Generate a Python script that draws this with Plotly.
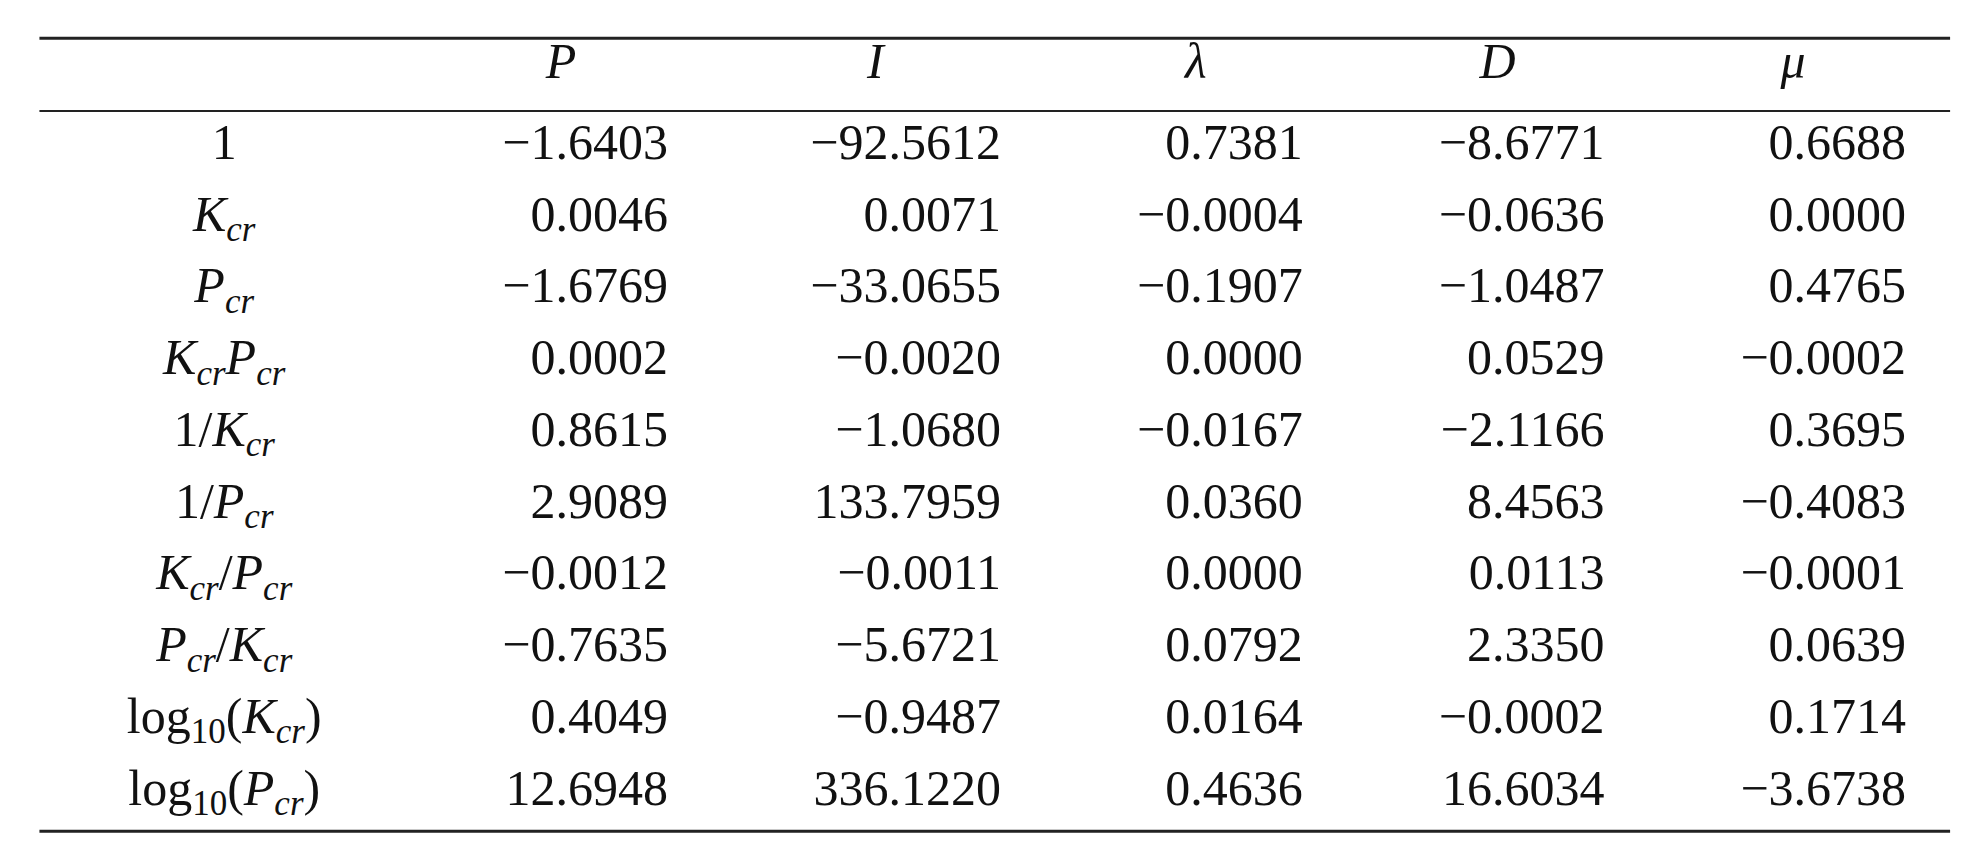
import plotly.graph_objects as go

row_labels = ["1", "<i>K</i><sub><i>cr</i></sub>", "<i>P</i><sub><i>cr</i></sub>",
              "<i>K</i><sub><i>cr</i></sub><i>P</i><sub><i>cr</i></sub>",
              "1/<i>K</i><sub><i>cr</i></sub>", "1/<i>P</i><sub><i>cr</i></sub>",
              "<i>K</i><sub><i>cr</i></sub>/<i>P</i><sub><i>cr</i></sub>",
              "<i>P</i><sub><i>cr</i></sub>/<i>K</i><sub><i>cr</i></sub>",
              "log<sub>10</sub>(<i>K</i><sub><i>cr</i></sub>)",
              "log<sub>10</sub>(<i>P</i><sub><i>cr</i></sub>)"]
col_headers = ["<i>P</i>", "<i>I</i>", "<i>λ</i>", "<i>D</i>", "<i>μ</i>"]
P_vals = [-1.6403, 0.0046, -1.6769, 0.0002, 0.8615, 2.9089, -0.0012, -0.7635, 0.4049, 12.6948]
I_vals = [-92.5612, 0.0071, -33.0655, -0.0020, -1.0680, 133.7959, -0.0011, -5.6721, -0.9487, 336.1220]
lam_vals = [0.7381, -0.0004, -0.1907, 0.0000, -0.0167, 0.0360, 0.0000, 0.0792, 0.0164, 0.4636]
D_vals = [-8.6771, -0.0636, -1.0487, 0.0529, -2.1166, 8.4563, 0.0113, 2.3350, -0.0002, 16.6034]
mu_vals = [0.6688, 0.0000, 0.4765, -0.0002, 0.3695, -0.4083, -0.0001, 0.0639, 0.1714, -3.6738]

W, H = 1971, 855
S = 1971 / 1568
font = dict(family="Liberation Serif, DejaVu Serif, serif", size=round(40 * S), color="#111")
col_right = [x * S for x in [525, 790, 1030, 1270, 1510]]
head_x = [x * S for x in [440, 690, 945, 1185, 1420]]
label_x = 172 * S
row_y0, row_dy = 110 * S, 57.1 * S
header_y = 46 * S

def fmt(v):
    return f"{v:.4f}".replace("-", "−")

fig = go.Figure()
ys = [row_y0 + i * row_dy for i in range(len(row_labels))]
fig.add_trace(go.Scatter(x=[label_x] * len(row_labels), y=ys, text=row_labels, mode="text",
                         textposition="middle center", textfont=font, hoverinfo="skip"))
fig.add_trace(go.Scatter(x=head_x, y=[header_y] * 5, text=col_headers, mode="text",
                         textposition="middle center", textfont=font, hoverinfo="skip"))
for xr, vals in zip(col_right, [P_vals, I_vals, lam_vals, D_vals, mu_vals]):
    fig.add_trace(go.Scatter(x=[xr] * len(vals), y=ys, text=[fmt(v) for v in vals], mode="text",
                             textposition="middle left", textfont=font, hoverinfo="skip"))

for y, w in [(24, 3), (82, 2), (655, 3)]:
    fig.add_shape(type="line", x0=25 * S, x1=1545 * S, y0=y * S, y1=y * S,
                  line=dict(color="#222", width=w))

fig.update_layout(width=W, height=H, margin=dict(l=0, r=0, t=0, b=0), showlegend=False,
                  plot_bgcolor="white", paper_bgcolor="white",
                  xaxis=dict(range=[0, W], visible=False, fixedrange=True),
                  yaxis=dict(range=[H, 0], visible=False, fixedrange=True))
fig.write_html("out.html")
